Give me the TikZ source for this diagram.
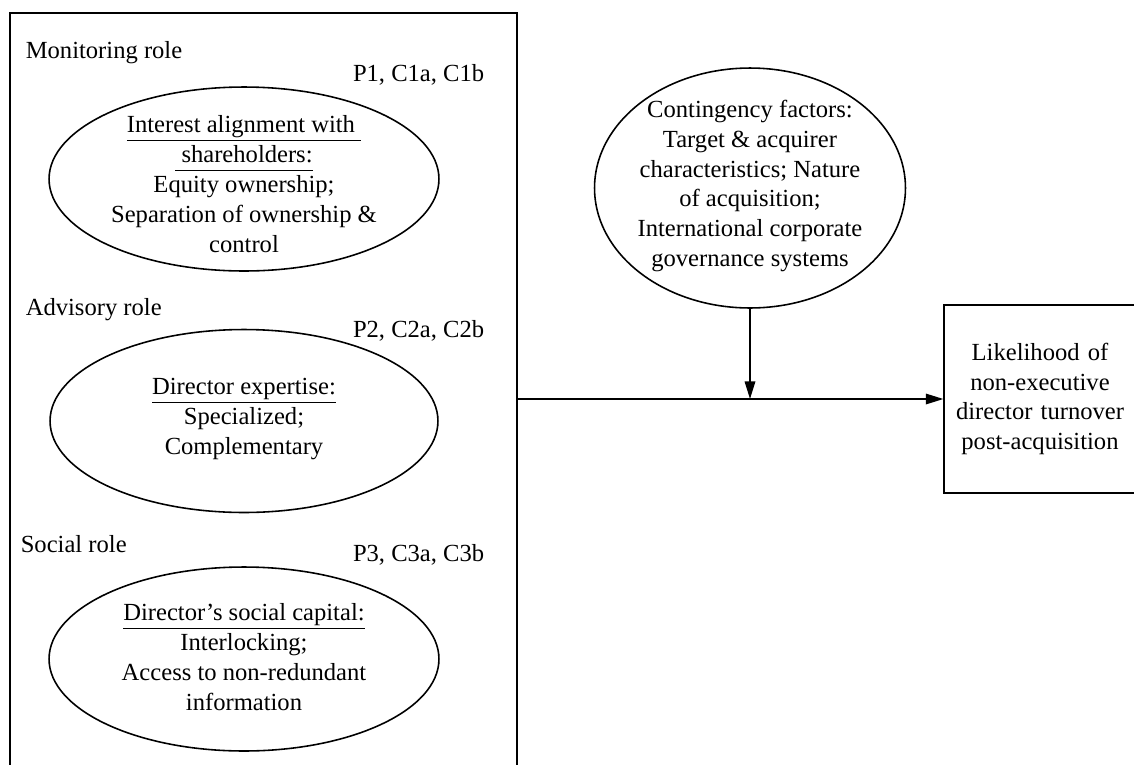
\documentclass[tikz,border=0pt]{standalone}
\usepackage{fontspec}
\setmainfont{Liberation Serif}
\usetikzlibrary{shapes.geometric, arrows.meta}
\newcommand\ulline[1]{\underline{#1\vphantom{g}}}

\begin{document}
\begin{tikzpicture}[x=0.02cm, y=-0.02cm, line width=0.9pt,
        font=\fontsize{14}{17}\selectfont,
        blob/.style={draw, ellipse, inner sep=0pt},
        rolename/.style={anchor=base west, inner sep=0pt},
        props/.style={anchor=base east, inner sep=0pt},
        arr/.style={-{Triangle[length=10pt,width=6pt]}}]
        \useasboundingbox (0,0) rectangle (1134,765);
        \clip (0,0) rectangle (1134,765);

        \node[draw, minimum width=10.14cm, minimum height=15.44cm] (roles) at (263.5,399) {};
        \node[draw, minimum width=3.8cm, minimum height=3.76cm, text width=3.6cm, align=center] (outcome) at (1040,399)
            {Likelihood of\\ non-executive\\ director turnover\\ post-acquisition};

        \node[rolename] (mlab) at (25,58) {Monitoring role};
        \node[props] (mprops) at (485,81) {P1, C1a, C1b};
        \node[blob, minimum width=7.8cm, minimum height=3.68cm] (mon) at (244,179) {};
        \node[align=center] (montext) at (244,184)
            {\ulline{Interest alignment with\ }\\ \ulline{\ shareholders:}\\ Equity ownership;\\ Separation of ownership \&\\ control};

        \node[rolename] (alab) at (25,315) {Advisory role};
        \node[props] (aprops) at (485,337) {P2, C2a, C2b};
        \node[blob, minimum width=7.76cm, minimum height=3.66cm] (adv) at (244,421) {};
        \node[align=center] (advtext) at (244,419)
            {\ulline{Director expertise:}\\ Specialized;\\ Complementary};

        \node[rolename] (slab) at (20,552) {Social role};
        \node[props] (sprops) at (485,561) {P3, C3a, C3b};
        \node[blob, minimum width=7.8cm, minimum height=3.68cm] (soc) at (244,659) {};
        \node[align=center] (soctext) at (244,657)
            {\ulline{Director's social capital:}\\ Interlocking;\\ Access to non-redundant\\ information};

        \node[blob, minimum width=6.22cm, minimum height=4.8cm] (factors) at (750,188) {};
        \node[align=center] (factext) at (750,186)
            {Contingency factors:\\ Target \& acquirer\\ characteristics; Nature\\ of acquisition;\\ International corporate\\ governance systems};

        \coordinate (meet) at (factors.south |- outcome.west);
        \draw[arr] (roles.east) -- (outcome.west);
        \draw[arr] (factors.south) -- (meet);
    \end{tikzpicture}
\end{document}
